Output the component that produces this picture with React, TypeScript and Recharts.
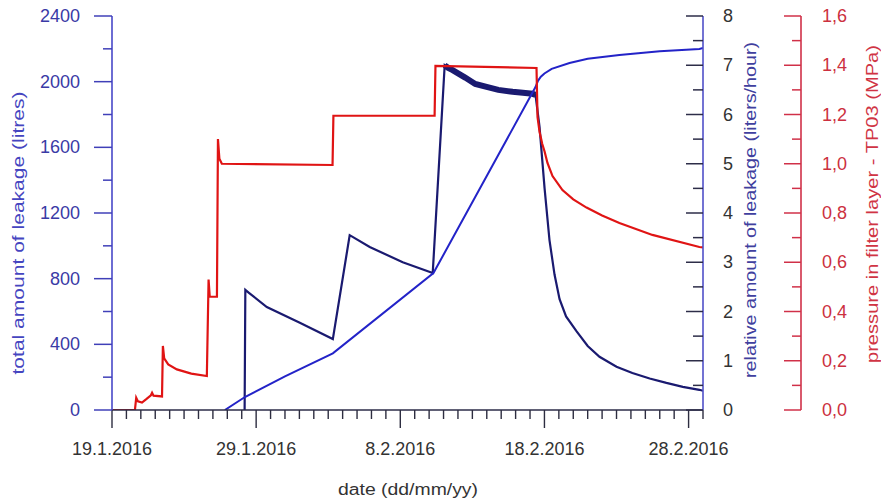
import React from 'react';
import { ComposedChart, Line, XAxis, YAxis } from 'recharts';

const FONT = '"Liberation Sans", Arial, sans-serif';

// x values are days counted from 19.1.2016
const pressureDays = [0, 1.59, 1.68, 1.8, 2.08, 2.4, 2.7, 2.78, 2.88, 3.47, 3.53, 3.62, 3.9, 4.5, 5.5, 6.58, 6.7, 6.78, 7.28, 7.35, 7.45, 7.62, 15.3, 15.36, 22.38, 22.44, 29.45, 29.52, 29.66, 29.85, 30.01, 30.21, 30.56, 31.25, 32.0, 32.92, 34.0, 35.2, 37.49, 40.75, 41];
const pressureMPa = [0, 0, 0.05, 0.035, 0.03, 0.045, 0.06, 0.07, 0.058, 0.055, 0.26, 0.21, 0.185, 0.165, 0.148, 0.138, 0.53, 0.46, 0.46, 1.1, 1.02, 1.0, 0.995, 1.195, 1.195, 1.397, 1.389, 1.19, 1.13, 1.08, 1.05, 1.003, 0.95, 0.893, 0.855, 0.822, 0.79, 0.759, 0.711, 0.662, 0.66];

const totalDays = [7.83, 9.22, 12.0, 15.32, 22.3, 29.38, 29.55, 29.75, 30.0, 30.5, 31.74, 33.0, 35.2, 38.0, 40.75, 41];
const totalLitres = [0, 79, 205, 345, 834, 1967, 2005, 2030, 2050, 2078, 2114, 2140, 2162, 2185, 2199, 2205];

const relDays = [9.2, 9.25, 9.5, 10.74, 13.03, 15.32, 16.49, 17.88, 20.17, 22.25, 23.08, 23.3, 23.63, 24.5, 25.2, 25.99, 26.8, 27.79, 28.5, 29.18, 29.38, 29.66, 30.01, 30.35, 30.7, 31.05, 31.5, 32.22, 33.0, 33.82, 35.0, 36.1, 37.3, 38.46, 39.6, 40.75, 41];
const relLph = [0, 2.44, 2.38, 2.09, 1.77, 1.44, 3.55, 3.31, 3.0, 2.78, 7.0, 6.95, 6.9, 6.75, 6.62, 6.56, 6.5, 6.46, 6.44, 6.42, 6.4, 5.75, 4.5, 3.45, 2.75, 2.25, 1.9, 1.6, 1.3, 1.08, 0.88, 0.75, 0.64, 0.55, 0.47, 0.41, 0.39];

const dateTicks = [0, 10, 20, 30, 40];
const dateLabels = ['19.1.2016', '29.1.2016', '8.2.2016', '18.2.2016', '28.2.2016'];
const dayTicks = [0, 1, 2, 3, 4, 5, 6, 7, 8, 9, 10, 11, 12, 13, 14, 15, 16, 17, 18, 19, 20, 21, 22, 23, 24, 25, 26, 27, 28, 29, 30, 31, 32, 33, 34, 35, 36, 37, 38, 39, 40, 41];
const totalTicks = [0, 200, 400, 600, 800, 1000, 1200, 1400, 1600, 1800, 2000, 2200, 2400];
const relTicks = [0, 0.5, 1, 1.5, 2, 2.5, 3, 3.5, 4, 4.5, 5, 5.5, 6, 6.5, 7, 7.5, 8];
const pressureTicks = [0, 0.1, 0.2, 0.3, 0.4, 0.5, 0.6, 0.7, 0.8, 0.9, 1.0, 1.1, 1.2, 1.3, 1.4, 1.5, 1.6];

const pressureData = pressureDays.map((d, i) => ({ day: d, pressure: pressureMPa[i] }));
const totalData = totalDays.map((d, i) => ({ day: d, total: totalLitres[i] }));
const relData = relDays.map((d, i) => ({ day: d, rel: relLph[i] }));
// the noisy stretch at the top plateau is drawn as a thick band
const relBand = relData.filter((p) => p.day >= 23.08 && p.day <= 29.38);

const DateTick = ({ x, y, payload }: any) => {
  const i = dateTicks.indexOf(payload.value);
  const major = i >= 0;
  return (
    <g>
      <line x1={x} x2={x} y1={y} y2={y + (major ? 18 : 9)} stroke="#2d2d40" strokeWidth={1.4} />
      {major && (
        <text x={x} y={y + 45} textAnchor="middle" fontSize={18} fill="#333" fontFamily={FONT}>
          {dateLabels[i]}
        </text>
      )}
    </g>
  );
};

const TotalTick = ({ x, y, payload }: any) => {
  const v = payload.value;
  const major = v % 400 === 0;
  return (
    <g>
      <line x1={x - (major ? 18 : 9)} x2={x} y1={y} y2={y} stroke="#4040b8" strokeWidth={1.5} />
      {major && (
        <text x={x - 32} y={y + 6} textAnchor="end" fontSize={18} fill="#3a3aa6" fontFamily={FONT}>
          {v}
        </text>
      )}
    </g>
  );
};

const RelTick = ({ x, y, payload }: any) => {
  const v = payload.value;
  const major = Number.isInteger(v);
  return (
    <g>
      <line x1={x - (major ? 17 : 10)} x2={x} y1={y} y2={y} stroke="#2d2d48" strokeWidth={1.5} />
      {major && (
        <text x={x + 25} y={y + 6} textAnchor="middle" fontSize={18} fill="#333" fontFamily={FONT}>
          {v}
        </text>
      )}
    </g>
  );
};

const PressureTick = ({ x, y, payload }: any) => {
  const v = payload.value;
  const major = Math.round(v * 10) % 2 === 0;
  return (
    <g>
      <line x1={x - (major ? 17 : 9)} x2={x} y1={y} y2={y} stroke="#d03048" strokeWidth={1.5} />
      {major && (
        <text x={x + 21} y={y + 6} textAnchor="start" fontSize={18} fill="#cc3040" fontFamily={FONT}>
          {v.toFixed(1).replace('.', ',')}
        </text>
      )}
    </g>
  );
};

const title = (text: string, cx: number, cy: number, len: number, color: string, rotate: boolean) => () => (
  <text
    transform={`translate(${cx},${cy})${rotate ? ' rotate(-90)' : ''}`}
    textAnchor="middle"
    dominantBaseline="central"
    fontSize={16}
    fill={color}
    fontFamily={FONT}
    textLength={len}
    lengthAdjust="spacingAndGlyphs"
  >
    {text}
  </text>
);

export default function App() {
  return (
    <div style={{ position: 'absolute', left: 0, top: 0, width: 881, height: 504, background: '#fff' }}>
      <ComposedChart width={881} height={504} margin={{ top: 16, right: 0, bottom: 0, left: 0 }}>
        <XAxis
          dataKey="day"
          type="number"
          domain={[0, 41]}
          ticks={dayTicks}
          interval={0}
          height={94}
          tickSize={0}
          tickMargin={0}
          tickLine={false}
          tick={DateTick}
          axisLine={{ stroke: '#2d2d48', strokeWidth: 1.6 }}
          allowDataOverflow
          label={title('date (dd/mm/yy)', 408, 489, 140, '#333', false)}
        />
        <YAxis
          yAxisId="left1"
          orientation="left"
          type="number"
          domain={[0, 2400]}
          ticks={totalTicks}
          interval={0}
          width={112}
          tickSize={0}
          tickMargin={0}
          tickLine={false}
          tick={TotalTick}
          axisLine={{ stroke: '#4848c8', strokeWidth: 1.6 }}
          allowDataOverflow
          label={title('total amount of leakage (litres)', 18, 233, 283, '#4545c0', true)}
        />
        <YAxis
          yAxisId="right1"
          orientation="right"
          type="number"
          domain={[0, 8]}
          ticks={relTicks}
          interval={0}
          width={98}
          tickSize={0}
          tickMargin={0}
          tickLine={false}
          tick={RelTick}
          axisLine={{ stroke: '#5050c8', strokeWidth: 1.6 }}
          allowDataOverflow
          label={title('relative amount of leakage (liters/hour)', 750, 210, 336, '#40409e', true)}
        />
        <YAxis
          yAxisId="right2"
          orientation="right"
          type="number"
          domain={[0, 1.6]}
          ticks={pressureTicks}
          interval={0}
          width={80}
          tickSize={0}
          tickMargin={0}
          tickLine={false}
          tick={PressureTick}
          axisLine={{ stroke: '#d03048', strokeWidth: 1.6 }}
          allowDataOverflow
          label={title('pressure in filter layer - TP03 (MPa)', 872, 204, 318, '#d03444', true)}
        />
        <Line
          data={relData}
          yAxisId="right1"
          dataKey="rel"
          type="linear"
          stroke="#1a1a70"
          strokeWidth={2.2}
          dot={false}
          activeDot={false}
          isAnimationActive={false}
        />
        <Line
          data={relBand}
          yAxisId="right1"
          dataKey="rel"
          type="linear"
          stroke="#1a1a70"
          strokeWidth={6}
          dot={false}
          activeDot={false}
          isAnimationActive={false}
        />
        <Line
          data={totalData}
          yAxisId="left1"
          dataKey="total"
          type="linear"
          stroke="#2323c8"
          strokeWidth={2}
          dot={false}
          activeDot={false}
          isAnimationActive={false}
        />
        <Line
          data={pressureData}
          yAxisId="right2"
          dataKey="pressure"
          type="linear"
          stroke="#e01414"
          strokeWidth={2.2}
          dot={false}
          activeDot={false}
          isAnimationActive={false}
        />
      </ComposedChart>
    </div>
  );
}
